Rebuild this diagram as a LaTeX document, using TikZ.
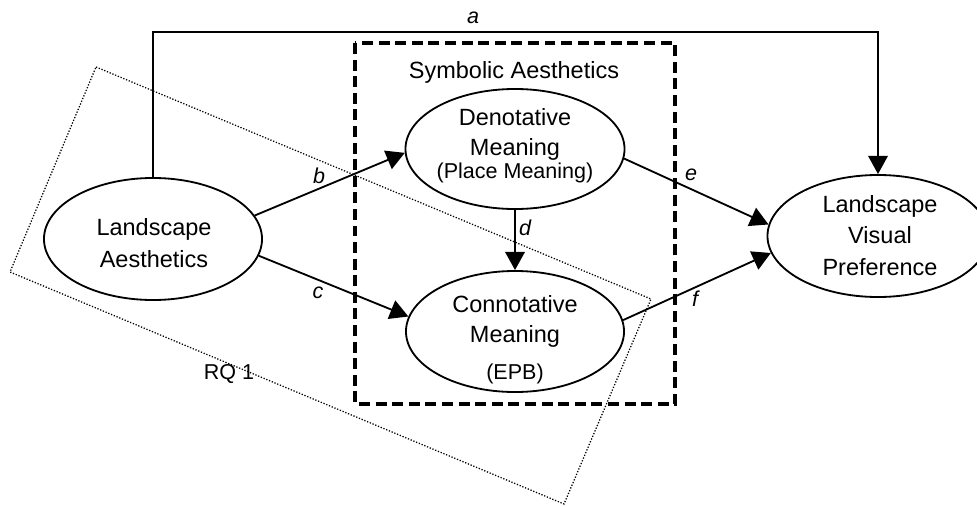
\documentclass[tikz,border=0pt]{standalone}
\usepackage{fontspec}
\setmainfont{Liberation Sans}
\usetikzlibrary{shapes.geometric,arrows.meta}
\begin{document}
\begin{tikzpicture}[x=0.025cm,y=-0.025cm,
  oval/.style={ellipse, draw, fill=white, line width=1.3pt, inner sep=0pt},
  big/.style={font=\fontsize{16.7}{20}\selectfont, anchor=base, inner sep=0pt},
  small/.style={font=\fontsize{15.3}{18}\selectfont, anchor=base, inner sep=0pt},
  pathlabel/.style={font=\fontsize{15.3}{18}\selectfont\itshape, anchor=base, inner sep=0pt},
  link/.style={line width=1.3pt, -{Triangle[length=13pt,width=14pt]}},
  groupbox/.style={line width=2.3pt, dash pattern=on 7.8pt off 4pt},
  rqbox/.style={line width=0.9pt, dash pattern=on 0.9pt off 1.2pt},
]
\useasboundingbox (0,0) rectangle (977,506);

% research question region (tilted)
\coordinate (q1) at (96,67);
\coordinate (q2) at (651,299);
\coordinate (q3) at (564,504);
\coordinate (q4) at (10,272);
\draw[rqbox] (q1) -- (q2) -- (q3) -- (q4) -- cycle;
\node[small] (rq) at (229,379) {RQ 1};

% symbolic aesthetics group
\draw[groupbox] (355,43) rectangle (675,404);
\node[big] (sym) at (514,78) {Symbolic Aesthetics};

% constructs
\node[oval, minimum width=5.45cm, minimum height=3.05cm] (la) at (153,239) {};
\node[oval, minimum width=5.475cm, minimum height=3.0cm] (den) at (515,149) {};
\node[oval, minimum width=5.45cm, minimum height=3.025cm] (con) at (515,331.5) {};
\node[oval, minimum width=5.525cm, minimum height=3.05cm] (lvp) at (878,236) {};

\node[big] (la1) at (154,235) {Landscape};
\node[big] (la2) at (154,267) {Aesthetics};
\node[big] (den1) at (515,125) {Denotative};
\node[big] (den2) at (515,155) {Meaning};
\node[small] (den3) at (515,178) {(Place Meaning)};
\node[big] (con1) at (515,312) {Connotative};
\node[big] (con2) at (515,342) {Meaning};
\node[small] (con3) at (515,379) {(EPB)};
\node[big] (lvp1) at (880,212) {Landscape};
\node[big] (lvp2) at (880,243) {Visual};
\node[big] (lvp3) at (880,275) {Preference};

% paths
\coordinate (aturn) at (878,32);
\draw[link, line width=1.1pt] (la.north) |- (aturn) -- (lvp.north);
\draw[link] (la.13) -- (den.182);
\draw[link] (la.351.5) -- (con.172.3);
\draw[link] (den.south) -- (con.north);
\draw[link] (den.355.3) -- (lvp.174.2);
\draw[link] (con.6.6) -- (lvp.189);

\node[pathlabel] (pa) at (473,23) {a};
\node[pathlabel] (pb) at (319,183) {b};
\node[pathlabel] (pc) at (318,298) {c};
\node[pathlabel] (pd) at (525,235) {d};
\node[pathlabel] (pe) at (691,180) {e};
\node[pathlabel] (pf) at (695,306) {f};
\end{tikzpicture}
\end{document}
